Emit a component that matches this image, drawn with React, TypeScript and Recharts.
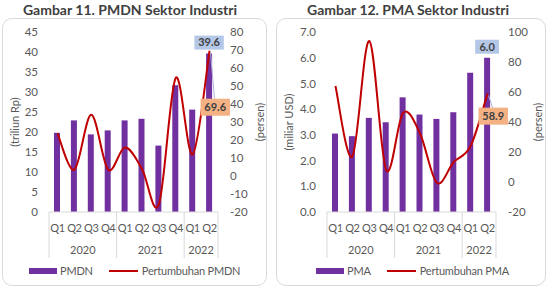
import React from 'react';
import { ComposedChart, Bar, Line, XAxis, YAxis } from 'recharts';

// Category axis: quarter labels with the year they belong to
const quarters = ['Q1', 'Q2', 'Q3', 'Q4', 'Q1', 'Q2', 'Q3', 'Q4', 'Q1', 'Q2'];
const years = ['2020', '2020', '2020', '2020', '2021', '2021', '2021', '2021', '2022', '2022'];

// Gambar 11: PMDN (triliun Rp) and its growth (persen)
const pmdnValues = [19.8, 22.9, 19.4, 20.4, 22.9, 23.3, 16.6, 31.7, 25.6, 39.6];
const pmdnGrowth = [23.7, 3.5, 34.0, 3.5, 15.8, 4.0, -15.8, 54.5, 12.0, 69.6];
const pmdnLeftTicks = [0, 5, 10, 15, 20, 25, 30, 35, 40, 45];
const pmdnRightTicks = [-20, -10, 0, 10, 20, 30, 40, 50, 60, 70, 80];

// Gambar 12: PMA (miliar USD) and its growth (persen)
const pmaValues = [3.05, 2.95, 3.66, 3.49, 4.46, 3.79, 3.62, 3.88, 5.42, 6.0];
const pmaGrowth = [64.0, 17.0, 94.0, 8.0, 46.0, 32.5, -0.5, 13.3, 24.0, 58.9];
const pmaLeftTicks = [0, 1, 2, 3, 4, 5, 6, 7];
const pmaRightTicks = [-20, 0, 20, 40, 60, 80, 100];

const PURPLE = '#7030a0';
const RED = '#c00000';
const TEXT = '#595959';
const GRID = '#d9d9d9';
const FONT = 'Lato, "Noto Sans", sans-serif';

const buildRows = (values: number[], growth: number[]) =>
  quarters.map((q, i) => ({ key: `${q} ${years[i]}`, value: values[i], growth: growth[i] }));

// Smooth line through every point (Catmull-Rom as cubic Béziers)
const smoothCurve = (context: any) => {
  let pts: number[][] = [];
  return {
    areaStart() {},
    areaEnd() {},
    lineStart() {
      pts = [];
    },
    point(x: number, y: number) {
      pts.push([+x, +y]);
    },
    lineEnd() {
      if (!pts.length) return;
      context.moveTo(pts[0][0], pts[0][1]);
      for (let i = 0; i < pts.length - 1; i++) {
        const p0 = pts[i - 1] || pts[i];
        const p1 = pts[i];
        const p2 = pts[i + 1];
        const p3 = pts[i + 2] || p2;
        context.bezierCurveTo(
          p1[0] + (p2[0] - p0[0]) / 6,
          p1[1] + (p2[1] - p0[1]) / 6,
          p2[0] - (p3[0] - p1[0]) / 6,
          p2[1] - (p3[1] - p1[1]) / 6,
          p2[0],
          p2[1]
        );
      }
    },
  };
};

// Two-level category axis: quarter row, year row and group separators
const renderCategoryTick = (props: any) => {
  const { x, y, payload, index, width, visibleTicksCount } = props;
  const band = payload && payload.offset ? payload.offset * 2 : width / visibleTicksCount;
  const left = payload.coordinate - band / 2;
  const right = left + band;
  const year = years[index];
  const isStart = index === 0 || years[index - 1] !== year;
  const isEnd = index === years.length - 1;
  const count = years.filter((yr) => yr === year).length;
  return (
    <g>
      <text
        x={x}
        y={y + 16}
        dy="0.35em"
        textAnchor="middle"
        fill={TEXT}
        fontSize={11}
        letterSpacing={-0.4}
        fontFamily={FONT}
      >
        {quarters[index]}
      </text>
      {isStart && <line x1={left} x2={left} y1={y} y2={y + 46} stroke={GRID} strokeWidth={1} />}
      {isStart && (
        <text x={left + (band * count) / 2} y={y + 38} dy="0.35em" textAnchor="middle" fill={TEXT} fontSize={11} fontFamily={FONT}>
          {year}
        </text>
      )}
      {isEnd && <line x1={right} x2={right} y1={y} y2={y + 46} stroke={GRID} strokeWidth={1} />}
    </g>
  );
};

const axisTitle = (text: string, dx: number) => ({
  content: (p: any) => {
    const vb = p.viewBox || {};
    const cx = vb.x + dx;
    const cy = vb.y + vb.height / 2;
    return (
      <text
        x={cx}
        y={cy}
        transform={`rotate(-90 ${cx} ${cy})`}
        textAnchor="middle"
        dominantBaseline="central"
        fill={TEXT}
        fontSize={11}
        fontFamily={FONT}
      >
        {text}
      </text>
    );
  },
});

const lastIndex = quarters.length - 1;

// Value badge sitting above the latest bar
const barBadge = (props: any) => {
  const { x, y, width, value, index } = props;
  if (index !== lastIndex) return null;
  const text = Number(value).toFixed(1);
  const w = text.length * 5.6 + 7;
  const h = 14;
  const cx = x + width / 2;
  const top = y - 4 - h;
  return (
    <g>
      <rect x={cx - w / 2} y={top} width={w} height={h} fill="#b4c7e7" />
      <text x={cx} y={top + h / 2} dy="0.35em" textAnchor="middle" fontWeight="bold" fontSize={11} fill="#404040" fontFamily={FONT}>
        {text}
      </text>
    </g>
  );
};

// Value badge for the latest growth point, with a thin leader line
const lineBadge = (dx: number, dy: number) => (props: any) => {
  const { x, y, value, index } = props;
  if (index !== lastIndex) return null;
  const text = Number(value).toFixed(1);
  const w = text.length * 5.6 + 7;
  const h = 17;
  const bx = x + dx;
  const by = y + dy;
  return (
    <g>
      <line x1={x + 1} y1={y + 2} x2={bx + 14} y2={by} stroke="#b3b3d9" strokeWidth={1} />
      <rect x={bx} y={by} width={w} height={h} fill="#f4b183" />
      <text x={bx + w / 2} y={by + h / 2} dy="0.35em" textAnchor="middle" fontWeight="bold" fontSize={11} fill="#404040" fontFamily={FONT}>
        {text}
      </text>
    </g>
  );
};

type PanelProps = {
  left: number;
  width: number;
  title: string;
  titleCenter: number;
  rows: any[];
  barName: string;
  lineName: string;
  leftTicks: number[];
  rightTicks: number[];
  leftFmt: (v: number) => string;
  leftTitle: string;
  leftAxisWidth: number;
  rightAxisWidth: number;
  frameLeft: number;
  frameWidth: number;
  badgeDx: number;
  badgeDy: number;
  legendLeft: number;
};

const Panel = (p: PanelProps) => {
  const tickStyle = { fill: TEXT, fontSize: 11.5, fontFamily: FONT };
  return (
    <>
      <div
        style={{
          position: 'absolute',
          left: p.frameLeft,
          top: 18,
          width: p.frameWidth,
          height: 268,
          border: `1px solid ${GRID}`,
          borderRadius: 10,
          boxSizing: 'border-box',
        }}
      />
      <div
        style={{
          position: 'absolute',
          left: p.titleCenter - 150,
          top: 0,
          width: 300,
          textAlign: 'center',
          fontFamily: FONT,
          fontWeight: 'bold',
          fontSize: 14,
          lineHeight: '20px',
          color: '#404040',
        }}
      >
        {p.title}
      </div>
      <div style={{ position: 'absolute', left: p.left, top: 0 }}>
        <ComposedChart width={p.width} height={295} data={p.rows} margin={{ top: 32, right: 0, bottom: 0, left: 0 }}>
          <XAxis
            dataKey="key"
            xAxisId="cat"
            interval={0}
            height={83}
            tickLine={false}
            tickSize={0}
            tickMargin={0}
            axisLine={{ stroke: GRID }}
            tick={renderCategoryTick}
          />
          <YAxis
            yAxisId="left"
            orientation="left"
            width={p.leftAxisWidth}
            domain={[p.leftTicks[0], p.leftTicks[p.leftTicks.length - 1]]}
            ticks={p.leftTicks}
            tickFormatter={p.leftFmt}
            axisLine={false}
            tickLine={false}
            tickSize={0}
            tickMargin={11}
            tick={tickStyle}
            label={axisTitle(p.leftTitle, 14)}
          />
          <YAxis
            yAxisId="right"
            orientation="right"
            width={p.rightAxisWidth}
            domain={[p.rightTicks[0], p.rightTicks[p.rightTicks.length - 1]]}
            ticks={p.rightTicks}
            axisLine={false}
            tickLine={false}
            tickSize={0}
            tickMargin={12}
            tick={tickStyle}
            label={axisTitle('(persen)', 41)}
          />
          <Bar
            dataKey="value"
            name={p.barName}
            xAxisId="cat"
            yAxisId="left"
            fill={PURPLE}
            barSize={6}
            isAnimationActive={false}
            label={barBadge}
          />
          <Line
            dataKey="growth"
            name={p.lineName}
            xAxisId="cat"
            yAxisId="right"
            type={smoothCurve as any}
            stroke={RED}
            strokeWidth={2}
            dot={false}
            activeDot={false}
            isAnimationActive={false}
            label={lineBadge(p.badgeDx, p.badgeDy)}
          />
        </ComposedChart>
      </div>
      <div
        style={{
          position: 'absolute',
          left: p.legendLeft,
          top: 262,
          height: 17,
          display: 'flex',
          alignItems: 'center',
          fontFamily: FONT,
          fontSize: 11,
          letterSpacing: -0.2,
          color: TEXT,
          whiteSpace: 'nowrap',
        }}
      >
        <span style={{ display: 'inline-block', width: 28, height: 6, background: PURPLE, marginRight: 3 }} />
        <span>{p.barName}</span>
        <span style={{ display: 'inline-block', width: 29, height: 2, background: RED, marginLeft: 16, marginRight: 4 }} />
        <span>{p.lineName}</span>
      </div>
    </>
  );
};

export default function App() {
  return (
    <div style={{ position: 'absolute', left: 0, top: 0, width: 548, height: 295, background: '#fff', fontFamily: FONT }}>
      <Panel
        left={0}
        width={270}
        title="Gambar 11. PMDN Sektor Industri"
        titleCenter={130}
        rows={buildRows(pmdnValues, pmdnGrowth)}
        barName="PMDN"
        lineName="Pertumbuhan PMDN"
        leftTicks={pmdnLeftTicks}
        rightTicks={pmdnRightTicks}
        leftFmt={(v) => String(v)}
        leftTitle="(triliun Rp)"
        leftAxisWidth={49}
        rightAxisWidth={52}
        frameLeft={2}
        frameWidth={265}
        badgeDx={-9}
        badgeDy={48}
        legendLeft={29}
      />
      <Panel
        left={274}
        width={274}
        title="Gambar 12. PMA Sektor Industri"
        titleCenter={408}
        rows={buildRows(pmaValues, pmaGrowth)}
        barName="PMA"
        lineName="Pertumbuhan PMA"
        leftTicks={pmaLeftTicks}
        rightTicks={pmaRightTicks}
        leftFmt={(v) => v.toFixed(1)}
        leftTitle="(miliar USD)"
        leftAxisWidth={53}
        rightAxisWidth={52}
        frameLeft={276}
        frameWidth={270}
        badgeDx={-9}
        badgeDy={14}
        legendLeft={316}
      />
    </div>
  );
}
